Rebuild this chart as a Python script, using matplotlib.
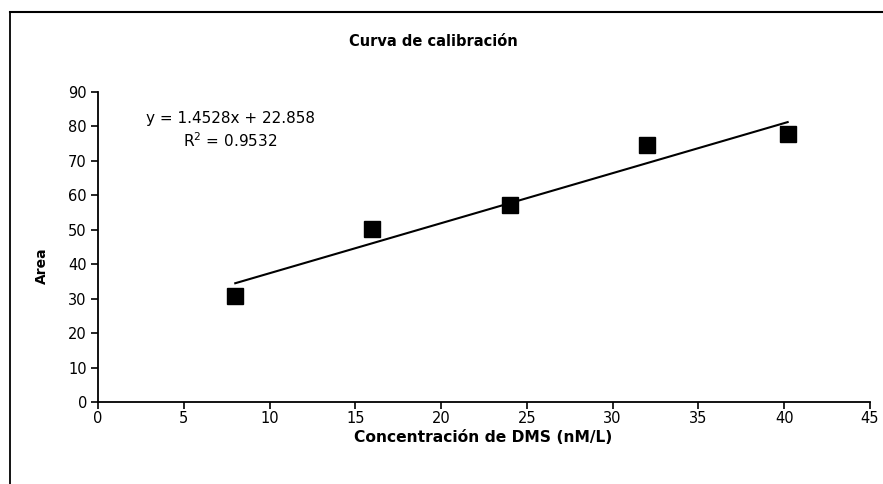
import matplotlib
matplotlib.use("Agg")
import matplotlib.pyplot as plt
from matplotlib.lines import Line2D
import numpy as np

conc = [8, 16, 24, 32, 40.2]
area = [30.8, 50.3, 57.3, 74.5, 77.9]
slope = 1.4528
intercept = 22.858
r2 = 0.9532
xticks = [0, 5, 10, 15, 20, 25, 30, 35, 40, 45]
yticks = [0, 10, 20, 30, 40, 50, 60, 70, 80, 90]

fig = plt.figure(figsize=(8.83, 4.84), dpi=100)
ax = fig.add_axes([98/883, 1-402/484, (870-98)/883, (402-92)/484])

ax.plot(conc, area, linestyle='none', marker='s', markersize=11.5, color='black')
xl = np.array([conc[0], conc[-1]])
ax.plot(xl, slope*xl + intercept, color='black', lw=1.5)

ax.set_xlim(0, 45)
ax.set_ylim(0, 90)
ax.set_xticks(xticks)
ax.set_yticks(yticks)
for s in ['top', 'right']:
    ax.spines[s].set_visible(False)
for s in ['left', 'bottom']:
    ax.spines[s].set_linewidth(1.3)
ax.tick_params(direction='out', length=5, width=1.2, labelsize=10.5, colors='black')
ax.tick_params(axis='x', pad=1.5)
ax.tick_params(axis='y', pad=3)

fig.text(231/883, 1-118/484, f"y = {slope}x + {intercept}", ha='center', va='center', fontsize=11)
fig.text(230/883, 1-141/484, f"R$^2$ = {r2}", ha='center', va='center', fontsize=11)

fig.text(433/883, 1-42/484, "Curva de calibración", ha='center', va='center',
         fontsize=10.5, fontweight='bold')
fig.text(483/883, 1-438/484, "Concentración de DMS (nM/L)", ha='center', va='center',
         fontsize=11.2, fontweight='bold')
fig.text(42/883, 1-266/484, "Area", ha='center', va='center', rotation=90,
         fontsize=10, fontweight='bold')

fig.add_artist(Line2D([10/883, 1.0], [1-12/484, 1-12/484], color='black', lw=1.5, transform=fig.transFigure))
fig.add_artist(Line2D([10/883, 10/883], [1-12/484, 0], color='black', lw=1.3, transform=fig.transFigure))

fig.savefig("out.png", dpi=100)
